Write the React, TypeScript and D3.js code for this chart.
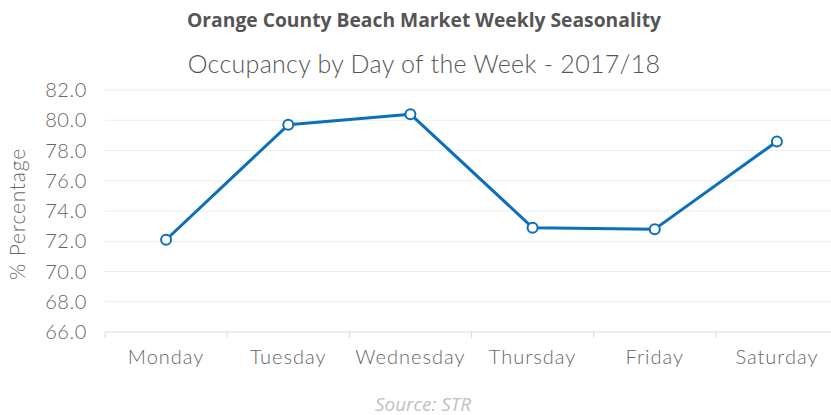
import React from 'react';
import * as d3 from 'd3';

const days = ['Monday', 'Tuesday', 'Wednesday', 'Thursday', 'Friday', 'Saturday'];
const occupancy = [72.1, 79.7, 80.4, 72.9, 72.8, 78.6];
const yTicks = [66, 68, 70, 72, 74, 76, 78, 80, 82];

const W = 831;
const H = 415;
const margin = { top: 90, right: -7, bottom: 83, left: 105 };

export default function App() {
  const x = d3.scaleBand()
    .domain(days)
    .range([margin.left, W - margin.right]);

  const y = d3.scaleLinear()
    .domain([66, 82])
    .range([H - margin.bottom, margin.top]);

  const line = d3.line<number>()
    .x((d, i) => x(days[i])! + x.bandwidth() / 2)
    .y(d => y(d));

  const blue = '#0B6FBA';
  const bottom = y(66);
  const light = "Lato, sans-serif";

  return (
    <svg width={W} height={H} style={{ position: 'absolute', left: 0, top: 0 }}>
      <text x={424} y={27} textAnchor="middle" fontFamily="'Open Sans', sans-serif"
        fontWeight="bold" fontSize={19} fill="#555" textLength={474} lengthAdjust="spacingAndGlyphs">
        Orange County Beach Market Weekly Seasonality
      </text>
      <text x={424} y={73} textAnchor="middle" fontFamily={light} fontWeight={300}
        fontSize={25} fill="#555" letterSpacing="0.3">
        Occupancy by Day of the Week - 2017/18
      </text>

      {yTicks.map(t => (
        <g key={t}>
          {t !== 66 && (
            <line x1={margin.left} x2={W} y1={y(t)} y2={y(t)} stroke="#ececec" strokeWidth={1} />
          )}
          <text x={87} y={y(t)} dy="0.35em" textAnchor="end" fontFamily={light} fontWeight={300}
            fontSize={20} fill="#666" letterSpacing="0.6">
            {t.toFixed(1)}
          </text>
        </g>
      ))}

      <line x1={margin.left} x2={W} y1={bottom} y2={bottom} stroke="#d9d9d9" strokeWidth={1} />
      {days.map(d => (
        <g key={d}>
          <line x1={x(d)!} x2={x(d)!} y1={bottom} y2={bottom + 6} stroke="#d9d9d9" strokeWidth={1} />
          <text x={x(d)! + x.bandwidth() / 2} y={364} textAnchor="middle"
            fontFamily={light} fontWeight={300} fontSize={20} fill="#666" letterSpacing="1">
            {d}
          </text>
        </g>
      ))}

      <text transform={`translate(25, ${(margin.top + bottom) / 2 + 3}) rotate(-90)`} textAnchor="middle"
        fontFamily={light} fontWeight={300} fontSize={21} fill="#666" letterSpacing="0.8">
        % Percentage
      </text>

      <path d={line(occupancy)!} fill="none" stroke={blue} strokeWidth={3} strokeLinejoin="round" />
      {occupancy.map((v, i) => (
        <circle key={days[i]} cx={x(days[i])! + x.bandwidth() / 2} cy={y(v)} r={5}
          fill="#fff" stroke={blue} strokeWidth={2} />
      ))}

      <text x={423} y={411} textAnchor="middle" fontFamily="'Open Sans', sans-serif"
        fontStyle="italic" fontSize={18} fill="#c0c0c0" textLength={96} lengthAdjust="spacingAndGlyphs">
        Source: STR
      </text>
    </svg>
  );
}
